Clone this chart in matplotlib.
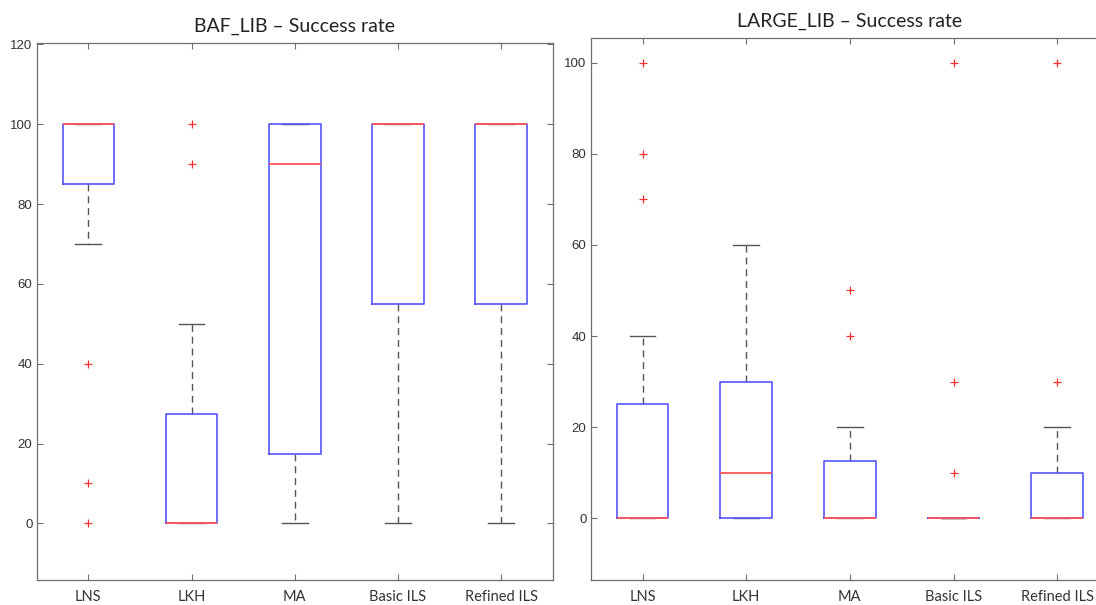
import matplotlib
matplotlib.use("Agg")
import matplotlib.pyplot as plt

categories = ["LNS", "LKH", "MA", "Basic ILS", "Refined ILS"]

# BAF_LIB
baf_q1 = [85, 0, 17.5, 55, 55]
baf_med = [100, 0, 90, 100, 100]
baf_q3 = [100, 27.5, 100, 100, 100]
baf_whislo = [70, 0, 0, 0, 0]
baf_whishi = [100, 50, 100, 100, 100]
baf_fliers = [[40, 10, 0], [100, 90], [], [], []]

# LARGE_LIB
large_q1 = [0, 0, 0, 0, 0]
large_med = [0, 10, 0, 0, 0]
large_q3 = [25, 30, 12.5, 0, 10]
large_whislo = [0, 0, 0, 0, 0]
large_whishi = [40, 60, 20, 0, 20]
large_fliers = [[70, 80, 100], [], [40, 50], [10, 30, 100], [30, 100]]

titles = ["BAF_LIB – Success rate", "LARGE_LIB – Success rate"]

fig = plt.figure(figsize=(10.96, 6.05), dpi=100)
ax1 = fig.add_axes([36.7/1096, 25/605, (552.7-36.7)/1096, (580-43.3)/605])
ax2 = fig.add_axes([590.7/1096, 25/605, (1109-590.7)/1096, (580-38.3)/605])

spine_col = "#6e6e6e"
text_col = "#333333"

def draw(ax, q1, med, q3, lo, hi, fl, title, ylim, yticks):
    stats = []
    for i in range(len(categories)):
        stats.append(dict(q1=q1[i], med=med[i], q3=q3[i], whislo=lo[i],
                          whishi=hi[i], fliers=fl[i], label=categories[i]))
    ax.bxp(stats, positions=range(1, 6), widths=0.5, capwidths=0.25,
           showfliers=True,
           boxprops=dict(color="#5555ff", linewidth=1.2, zorder=3),
           medianprops=dict(color="#ff5555", linewidth=1.3, zorder=5),
           whiskerprops=dict(color="#555555", linewidth=1.0, linestyle=(0, (5, 3.5)), zorder=2),
           capprops=dict(color="#555555", linewidth=1.0, zorder=2),
           flierprops=dict(marker="+", markeredgecolor="#ff3030", markersize=6,
                           markeredgewidth=0.9, linestyle="none"))
    ax.set_xlim(0.5, 5.5)
    ax.set_ylim(*ylim)
    ax.set_yticks(yticks)
    ax.set_xticks(range(1, 6))
    ax.set_xticklabels(categories, family="Lato", fontsize=10.5, color=text_col)
    for lab in ax.get_yticklabels():
        lab.set_family("Liberation Sans")
        lab.set_fontsize(9.5)
        lab.set_color(text_col)
    ax.tick_params(axis="both", direction="in", length=4, width=0.8,
                   color=spine_col, top=True, right=True)
    ax.tick_params(axis="x", pad=7)
    ax.tick_params(axis="y", pad=3)
    for s in ax.spines.values():
        s.set_color(spine_col)
        s.set_linewidth(0.9)
    ax.set_title(title, family="Lato", fontsize=14, color="#222222", pad=8)

draw(ax1, baf_q1, baf_med, baf_q3, baf_whislo, baf_whishi, baf_fliers,
     titles[0], (-14.2, 120.3), [0, 20, 40, 60, 80, 100, 120])
draw(ax2, large_q1, large_med, large_q3, large_whislo, large_whishi, large_fliers,
     titles[1], (-13.6, 105.4), [0, 20, 40, 60, 80, 100])

fig.savefig("out.png", dpi=100)
